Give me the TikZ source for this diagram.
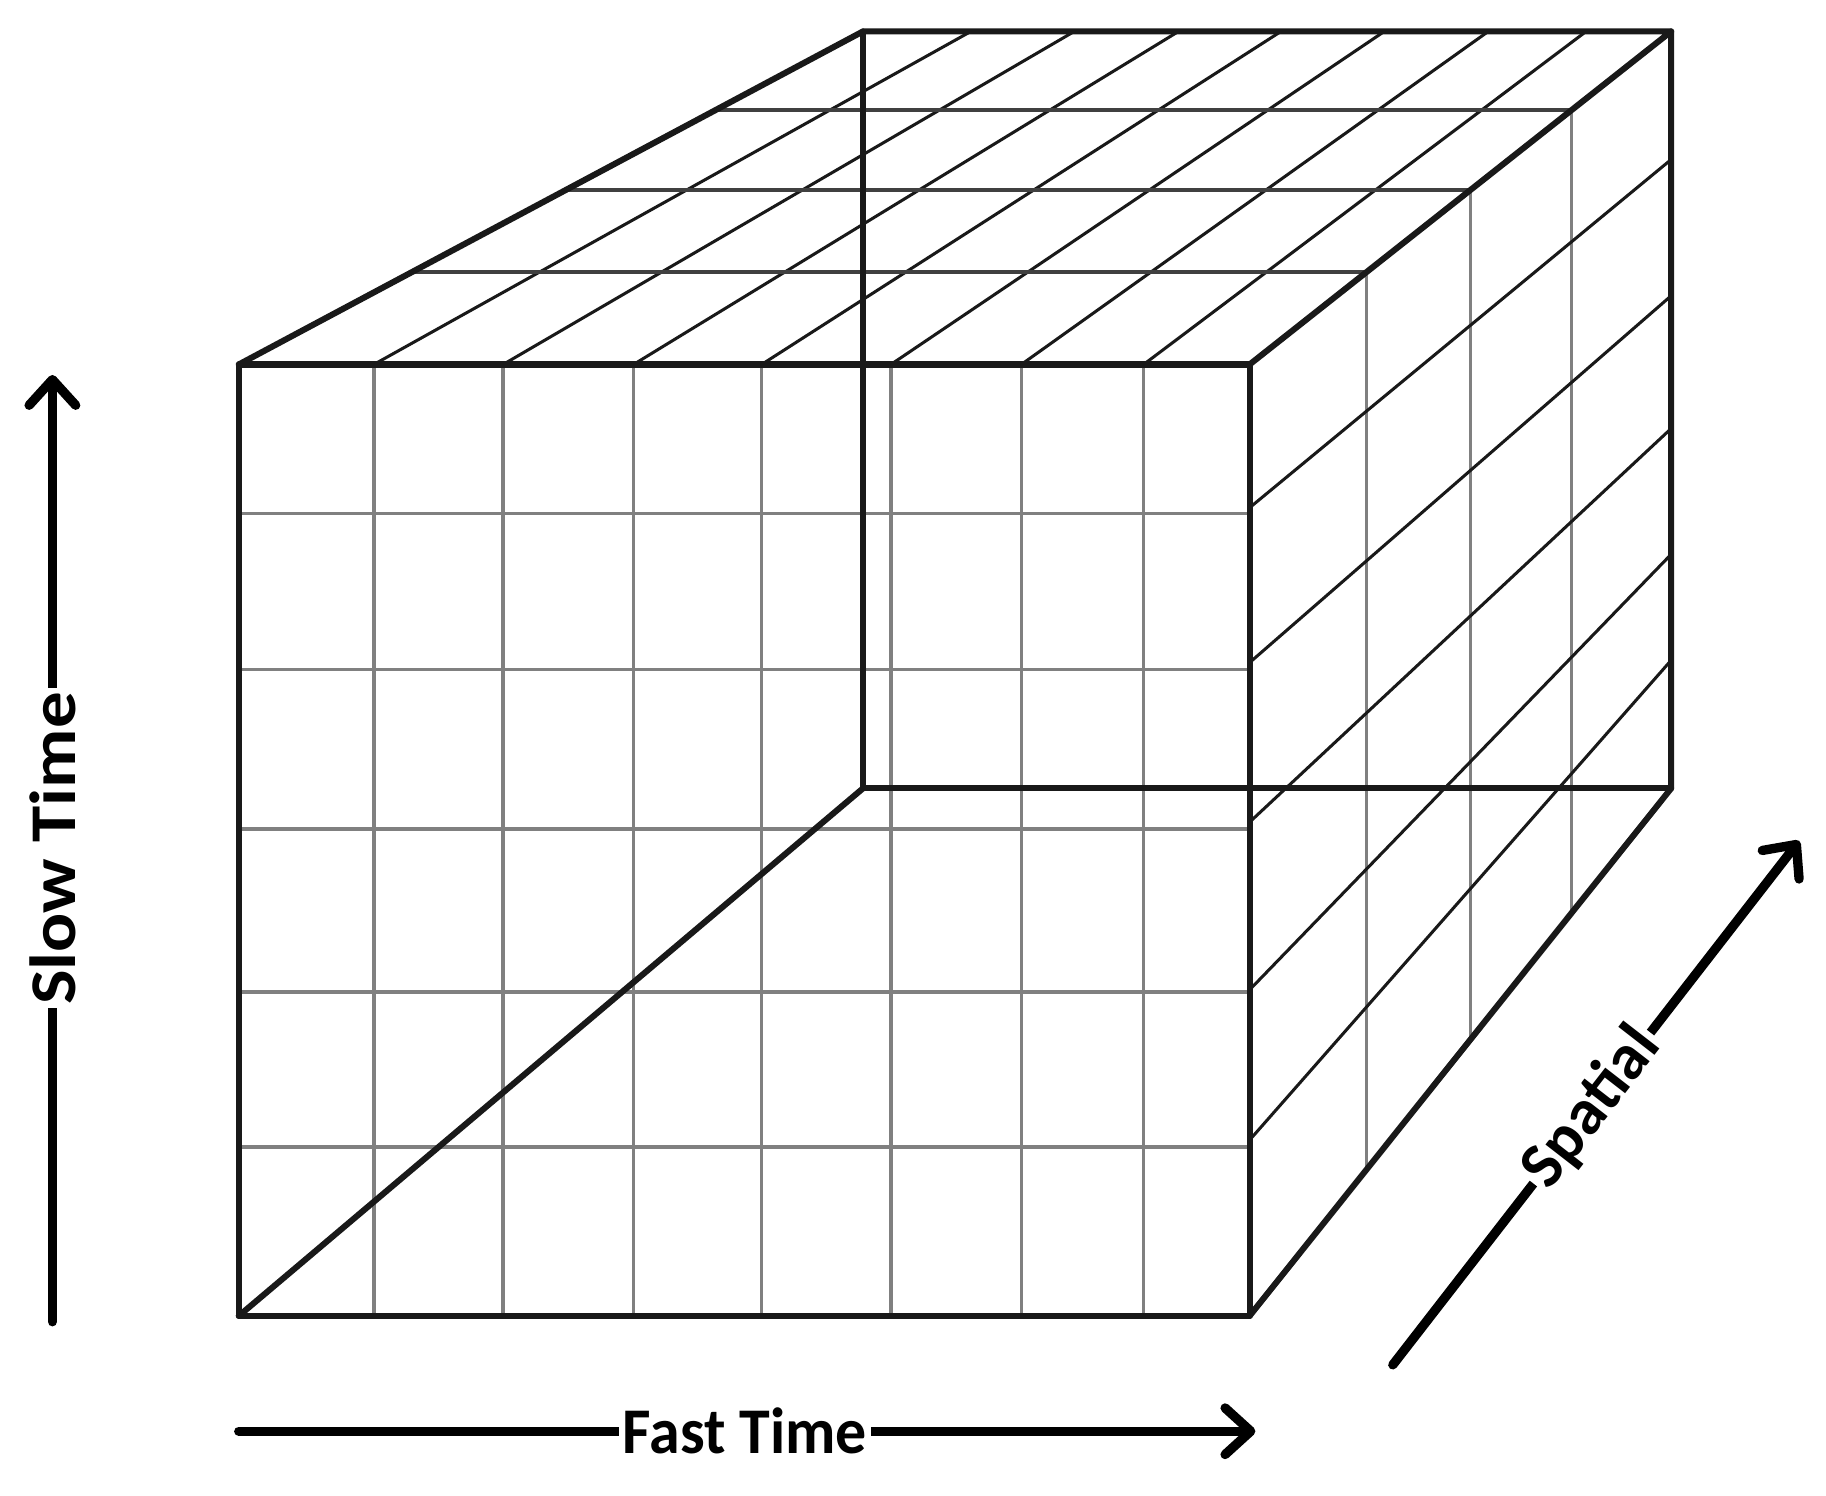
\documentclass[tikz,border=0pt]{standalone}
\usepackage{fontspec}
\setmainfont{Carlito}
\usetikzlibrary{arrows.meta}
\begin{document}
\begin{tikzpicture}[x=0.5pt,y=-0.5pt,
  edge/.style={line width=2.6pt, black!90, line cap=round, line join=round},
  fgrid/.style={line width=1.5pt, black!50},
  tdiag/.style={line width=1.3pt, black!90},
  thor/.style={line width=1.6pt, black!75},
  rvert/.style={line width=1.1pt, black!50},
  rdiag/.style={line width=1.3pt, black!90},
  axis/.style={line width=4pt, line cap=round, -{Straight Barb[length=11pt,width=20pt,round]}},
  lab/.style={fill=white, inner sep=1.5pt, font=\bfseries\fontsize{28}{30}\selectfont}]
\useasboundingbox (0,0) rectangle (1568,1284);
% front grid
\foreach \x in {321,432,544,654,765,877,982} \draw[fgrid] (\x,313) -- (\x,1130);
\foreach \y in {441,575,712,852,985} \draw[fgrid] (205,\y) -- (1073,\y);
% top face diagonals
\foreach \x/\bx in {321/833.7,432/922.5,544/1012,654/1100,765/1188.7,877/1278,982/1362}
  \draw[tdiag] (\x,313) -- (\bx,27);
% top face horizontals
\foreach \lx/\y/\rx in {354/233.5/1173.6,486/163.1/1262.7,614.5/94.5/1349.6}
  \draw[thor] (\lx,\y) -- (\rx,\y);
% right face verticals
\foreach \x/\ty/\by in {1173.6/233.5/1004,1262.7/163.1/891.6,1349.6/94.5/782.4}
  \draw[rvert] (\x,\ty) -- (\x,\by);
% right face diagonals
\foreach \fy/\by in {436/137,569/254,706/368,850/476,979/567}
  \draw[rdiag] (1073,\fy) -- (1435,\by);
% cube edges
\coordinate (A) at (205,1130); \coordinate (B) at (1073,1130);
\coordinate (C) at (1073,313); \coordinate (D) at (205,313);
\coordinate (E) at (741,677); \coordinate (F) at (1435,677);
\coordinate (G) at (1435,27); \coordinate (H) at (741,27);
\draw[edge] (A) -- (B) -- (C) -- (D) -- cycle;
\draw[edge] (D) -- (H) -- (G) -- (C);
\draw[edge] (G) -- (F) -- (B);
\draw[edge] (H) -- (E) -- (F);
\draw[edge] (A) -- (E);
% axes
\coordinate (s0) at (45,1135); \coordinate (s1) at (45,322);
\coordinate (f0) at (205,1229); \coordinate (f1) at (1078,1229);
\coordinate (p0) at (1196,1172); \coordinate (p1) at (1545,722);
\draw[axis] (s0) -- node[lab, sloped, pos=0.5] (slow) {\scalebox{1.12}[1]{Slow Time}} (s1);
\draw[axis] (f0) -- node[lab, sloped, pos=0.498] (fast) {\scalebox{0.95}[1]{Fast Time}} (f1);
\draw[axis] (p0) -- node[lab, sloped, pos=0.49] (spatial) {Spatial} (p1);
\end{tikzpicture}
\end{document}
